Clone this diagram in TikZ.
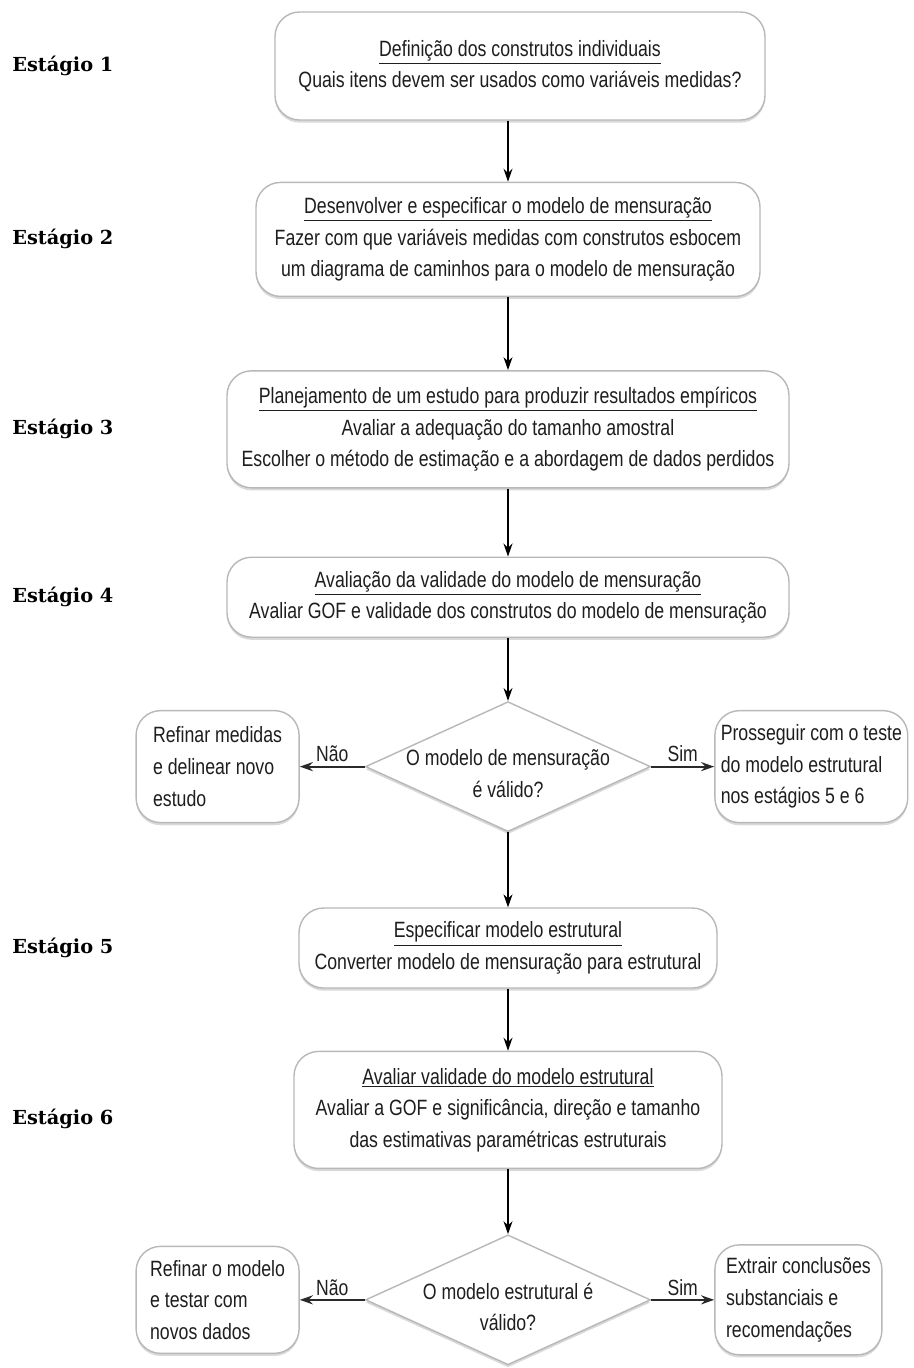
\documentclass[tikz,border=0pt]{standalone}
\usepackage{fontspec}
\setmainfont{Liberation Sans}[FakeStretch=0.8]
\newfontfamily\stagefont{DejaVu Serif}
\usepackage{tikz}
\usetikzlibrary{shapes.geometric,arrows.meta,positioning,shadows}
\definecolor{boxline}{HTML}{B8B8B8}
\definecolor{branchgray}{HTML}{2A2A2A}
\definecolor{txtgray}{HTML}{1E1E1E}

\begin{document}
\begin{tikzpicture}[
  font=\fontsize{12.6pt}{18pt}\selectfont, text=txtgray,
  >={Stealth[length=2.6mm, width=1.8mm]},
  stagebox/.style={rectangle, draw=boxline, fill=white, rounded corners=14pt,
                   align=center, line width=0.8pt,
                   drop shadow={shadow xshift=0pt, shadow yshift=-1.5pt,
                                opacity=0.3, fill=gray}},
  sidebox/.style={rectangle, draw=boxline, fill=white, rounded corners=14pt,
                  align=left, line width=0.8pt,
                  drop shadow={shadow xshift=0pt, shadow yshift=-1.5pt,
                               opacity=0.3, fill=gray}},
  decision/.style={diamond, draw=boxline, fill=white, minimum width=5.7cm,
                   minimum height=2.6cm, inner sep=0pt, line width=0.8pt,
                   drop shadow={shadow xshift=0pt, shadow yshift=-1.5pt,
                                opacity=0.3, fill=gray}},
  stagelbl/.style={font=\stagefont\bfseries\fontsize{11pt}{13pt}\selectfont,
                   text=black, anchor=west, inner sep=0pt},
  flow/.style={->, draw=black, line width=0.7pt},
  branch/.style={->, draw=branchgray, line width=1.2pt},
  blbl/.style={font=\fontsize{12.5pt}{14pt}\selectfont, inner sep=2pt}
]
\useasboundingbox (0,0) rectangle (18.26,-27.36);

% ---------- Stages 1--4 ----------
\node[stagebox, minimum width=9.8cm, minimum height=2.16cm] (s1) at (10.4,-1.32)
  {\underline{Definição dos construtos individuais}\\
   Quais itens devem ser usados como variáveis medidas?};
\node[stagebox, minimum width=10.08cm, minimum height=2.28cm, below=1.22cm of s1,
      xshift=-0.24cm] (s2)
  {\underline{Desenvolver e especificar o modelo de mensuração}\\
   Fazer com que variáveis medidas com construtos esbocem\\
   um diagrama de caminhos para o modelo de mensuração};
\node[stagebox, minimum width=11.24cm, minimum height=2.34cm, below=1.46cm of s2] (s3)
  {\underline{Planejamento de um estudo para produzir resultados empíricos}\\
   Avaliar a adequação do tamanho amostral\\
   Escolher o método de estimação e a abordagem de dados perdidos};
\node[stagebox, minimum width=11.24cm, minimum height=1.6cm, below=1.36cm of s3] (s4)
  {\underline{Avaliação da validade do modelo de mensuração}\\
   Avaliar GOF e validade dos construtos do modelo de mensuração};

% ---------- first decision ----------
\node[decision, below=1.26cm of s4] (d1)
  {\makebox[0pt]{\raisebox{-0.28cm}[0pt][0pt]{\begin{tabular}{@{}c@{}}O modelo de mensuração\\é válido?\end{tabular}}}};
\node[sidebox, minimum width=3.26cm, minimum height=2.24cm, left=1.3cm of d1] (n1)
  {Refinar medidas\\e delinear novo\\estudo};
\node[sidebox, minimum width=3.84cm, minimum height=2.24cm, right=1.26cm of d1] (y1)
  {Prosseguir com o teste\\do modelo estrutural\\nos estágios 5 e 6};

% ---------- Stages 5--6 ----------
\node[stagebox, minimum width=8.36cm, minimum height=1.6cm, below=1.5cm of d1] (s5)
  {\underline{Especificar modelo estrutural}\\
   Converter modelo de mensuração para estrutural};
\node[stagebox, minimum width=8.56cm, minimum height=2.34cm, below=1.24cm of s5] (s6)
  {\underline{Avaliar validade do modelo estrutural}\\
   Avaliar a GOF e significância, direção e tamanho\\
   das estimativas paramétricas estruturais};

% ---------- second decision ----------
\node[decision, below=1.3cm of s6] (d2)
  {\makebox[0pt]{\raisebox{-0.28cm}[0pt][0pt]{\begin{tabular}{@{}c@{}}O modelo estrutural é\\válido?\end{tabular}}}};
\node[sidebox, minimum width=3.26cm, minimum height=2.14cm, left=1.3cm of d2] (n2)
  {Refinar o modelo\\e testar com\\novos dados};
\node[sidebox, minimum width=3.34cm, minimum height=2.2cm, right=1.26cm of d2] (y2)
  {Extrair conclusões\\substanciais e\\recomendações};

% ---------- stage labels ----------
\node[stagelbl] (l1) at (0.24,0 |- s1) {Estágio 1};
\node[stagelbl] (l2) at (0.24,0 |- s2) {Estágio 2};
\node[stagelbl] (l3) at (0.24,0 |- s3) {Estágio 3};
\node[stagelbl] (l4) at (0.24,0 |- s4) {Estágio 4};
\node[stagelbl] (l5) at (0.24,0 |- s5) {Estágio 5};
\node[stagelbl, yshift=-0.18cm] (l6) at (0.24,0 |- s6) {Estágio 6};

% ---------- connectors ----------
\draw[flow] (s1.south -| s2) -- (s2.north);
\draw[flow] (s2.south) -- (s3.north);
\draw[flow] (s3.south) -- (s4.north);
\draw[flow] (s4.south) -- (d1.north);
\draw[flow] (d1.south) -- (s5.north);
\draw[flow] (s5.south) -- (s6.north);
\draw[flow] (s6.south) -- (d2.north);

\draw[branch] (d1.west) -- (n1.east) node[blbl, midway, above] {Não};
\draw[branch] (d1.east) -- (y1.west) node[blbl, midway, above] {Sim};
\draw[branch] (d2.west) -- (n2.east) node[blbl, midway, above] {Não};
\draw[branch] (d2.east) -- (y2.west) node[blbl, midway, above] {Sim};

\end{tikzpicture}
\end{document}
